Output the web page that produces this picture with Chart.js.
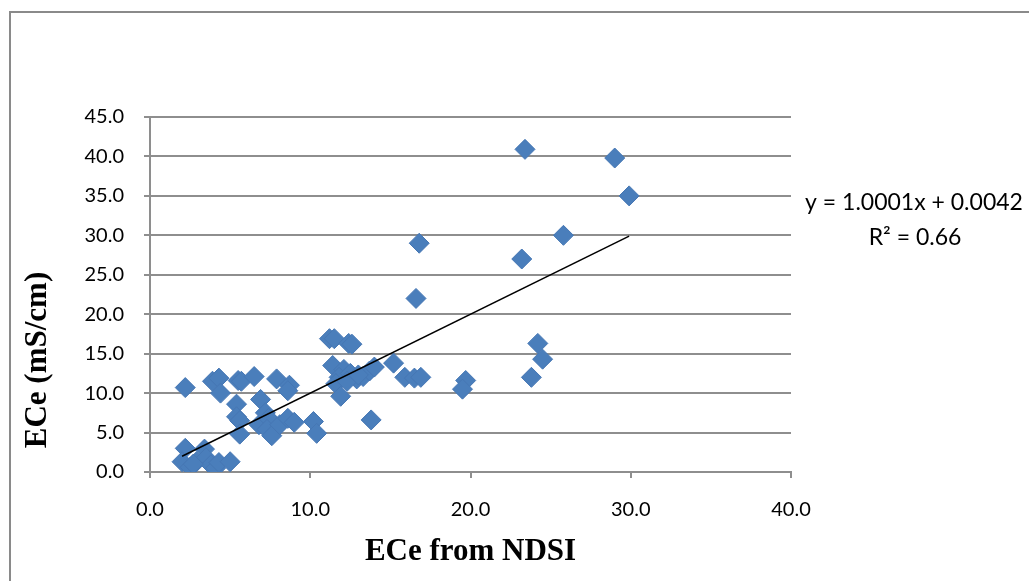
<!DOCTYPE html>
<html>
<head>
<meta charset="utf-8">
<script src="https://cdn.jsdelivr.net/npm/chart.js@4/dist/chart.umd.min.js"></script>
<style>
  html, body { margin: 0; padding: 0; background: #ffffff; }
  #wrap { width: 1029px; height: 581px; position: relative; }
</style>
</head>
<body>
<div id="wrap"><canvas id="c" width="1029" height="581"></canvas></div>
<script>
const ndsiX = [2.2, 3.9, 4.3, 4.4, 5.5, 5.7, 6.5, 7.9, 8.7, 8.6,
               5.4, 6.9, 5.4, 5.6, 5.6, 6.8, 7.2, 7.4, 7.3, 7.6,
               8.1, 8.6, 9.0, 10.2, 10.4, 2.2, 3.4, 2.0, 2.5, 2.9,
               3.5, 3.8, 4.1, 4.3, 5.0, 2.7, 11.2, 11.5, 12.4, 12.6,
               11.4, 12.1, 11.8, 11.6, 12.5, 12.9, 13.3, 13.7, 14.0, 11.9,
               13.8, 15.2, 15.9, 16.5, 16.9, 16.8, 16.6, 19.7, 19.5, 23.2,
               23.4, 24.2, 24.5, 23.8, 25.8, 29.0, 29.9, 12.3, 13.0];
const eceY  = [10.7, 11.5, 11.9, 10.0, 11.6, 11.5, 12.1, 11.8, 11.0, 10.3,
               8.6, 9.2, 7.0, 6.5, 4.8, 6.0, 7.5, 6.8, 5.4, 4.6,
               6.0, 6.8, 6.3, 6.4, 4.9, 3.0, 2.9, 1.3, 0.6, 1.3,
               1.8, 0.9, 0.5, 1.2, 1.3, 1.0, 16.9, 16.9, 16.3, 16.2,
               13.5, 13.0, 12.0, 11.2, 12.5, 11.8, 12.1, 12.8, 13.3, 9.6,
               6.6, 13.8, 12.0, 11.9, 12.0, 29.0, 22.0, 11.6, 10.5, 27.0,
               40.9, 16.3, 14.3, 12.0, 30.0, 39.8, 35.0, 11.5, 12.3];
// linear trendline end points (y = 1.0001x + 0.0042)
const trendX = [2.0, 29.9];
const trendY = [2.0, 29.9];
const xTickLabels = ['0.0', '10.0', '20.0', '30.0', '40.0'];
const yTickLabels = ['0.0', '5.0', '10.0', '15.0', '20.0', '25.0', '30.0', '35.0', '40.0', '45.0'];
const equationText = 'y = 1.0001x + 0.0042';
const r2Text = 'R\u00b2 = 0.66';
const xTitle = 'ECe from NDSI';
const yTitle = 'ECe (mS/cm)';

const points = ndsiX.map((x, i) => ({ x: x, y: eceY[i] }));
const trend = trendX.map((x, i) => ({ x: x, y: trendY[i] }));

const GRID = '#8e8e8e';

const decor = {
  id: 'decor',
  beforeDraw(chart) {
    const ctx = chart.ctx;
    ctx.save();
    ctx.fillStyle = '#ffffff';
    ctx.fillRect(0, 0, chart.width, chart.height);
    ctx.strokeStyle = '#8a8a8a';
    ctx.lineWidth = 2;
    ctx.beginPath();
    ctx.moveTo(10, 581);
    ctx.lineTo(10, 12);
    ctx.lineTo(1029, 12);
    ctx.stroke();
    ctx.restore();
  },
  afterDraw(chart) {
    const ctx = chart.ctx;
    ctx.save();
    // y axis title
    ctx.fillStyle = '#000000';
    ctx.font = 'bold 31px "Liberation Serif", "Times New Roman", serif';
    ctx.textAlign = 'center';
    ctx.textBaseline = 'middle';
    ctx.translate(38, 360);
    ctx.rotate(-Math.PI / 2);
    ctx.fillText(yTitle, 0, 0);
    ctx.restore();
    // trendline equation
    ctx.save();
    ctx.fillStyle = '#000000';
    ctx.font = '23px Lato, "Open Sans", sans-serif';
    ctx.textAlign = 'center';
    ctx.textBaseline = 'middle';
    ctx.fillText(equationText, 914, 203);
    ctx.fillText(r2Text, 915, 238);
    ctx.restore();
  }
};

new Chart(document.getElementById('c'), {
  type: 'scatter',
  data: {
    datasets: [
      {
        label: 'ECe',
        data: points,
        pointStyle: 'rectRot',
        pointRadius: 10,
        pointHoverRadius: 10,
        backgroundColor: '#4a7ebb',
        borderColor: '#4677b4',
        borderWidth: 1,
        order: 2
      },
      {
        label: 'Linear',
        type: 'line',
        data: trend,
        borderColor: '#000000',
        borderWidth: 1.5,
        pointRadius: 0,
        fill: false,
        order: 1
      }
    ]
  },
  options: {
    responsive: false,
    animation: false,
    devicePixelRatio: 1,
    layout: { padding: { left: 0, right: 238, top: 117, bottom: 0 } },
    plugins: {
      legend: { display: false },
      tooltip: { enabled: false }
    },
    scales: {
      x: {
        type: 'linear',
        min: 0,
        max: 40,
        ticks: {
          stepSize: 10,
          padding: 20,
          color: '#000000',
          font: { family: 'Lato', size: 20 },
          callback: (v, i) => xTickLabels[i]
        },
        grid: { drawOnChartArea: false, drawTicks: true, tickLength: 6, color: GRID, lineWidth: 2 },
        border: { display: true, color: GRID, width: 2 },
        title: {
          display: true,
          text: xTitle,
          color: '#000000',
          font: { family: '"Liberation Serif"', size: 31, weight: 'bold' },
          padding: { top: 0, bottom: 10 }
        },
        afterFit: (s) => { s.height = 109; }
      },
      y: {
        type: 'linear',
        min: 0,
        max: 45,
        ticks: {
          stepSize: 5,
          padding: 20,
          color: '#000000',
          font: { family: 'Lato', size: 20 },
          callback: (v, i) => yTickLabels[i]
        },
        grid: { drawOnChartArea: true, drawTicks: true, tickLength: 6, color: GRID, lineWidth: 2 },
        border: { display: true, color: GRID, width: 2 },
        afterFit: (s) => { s.width = 150; }
      }
    }
  },
  plugins: [decor]
});
</script>
</body>
</html>
